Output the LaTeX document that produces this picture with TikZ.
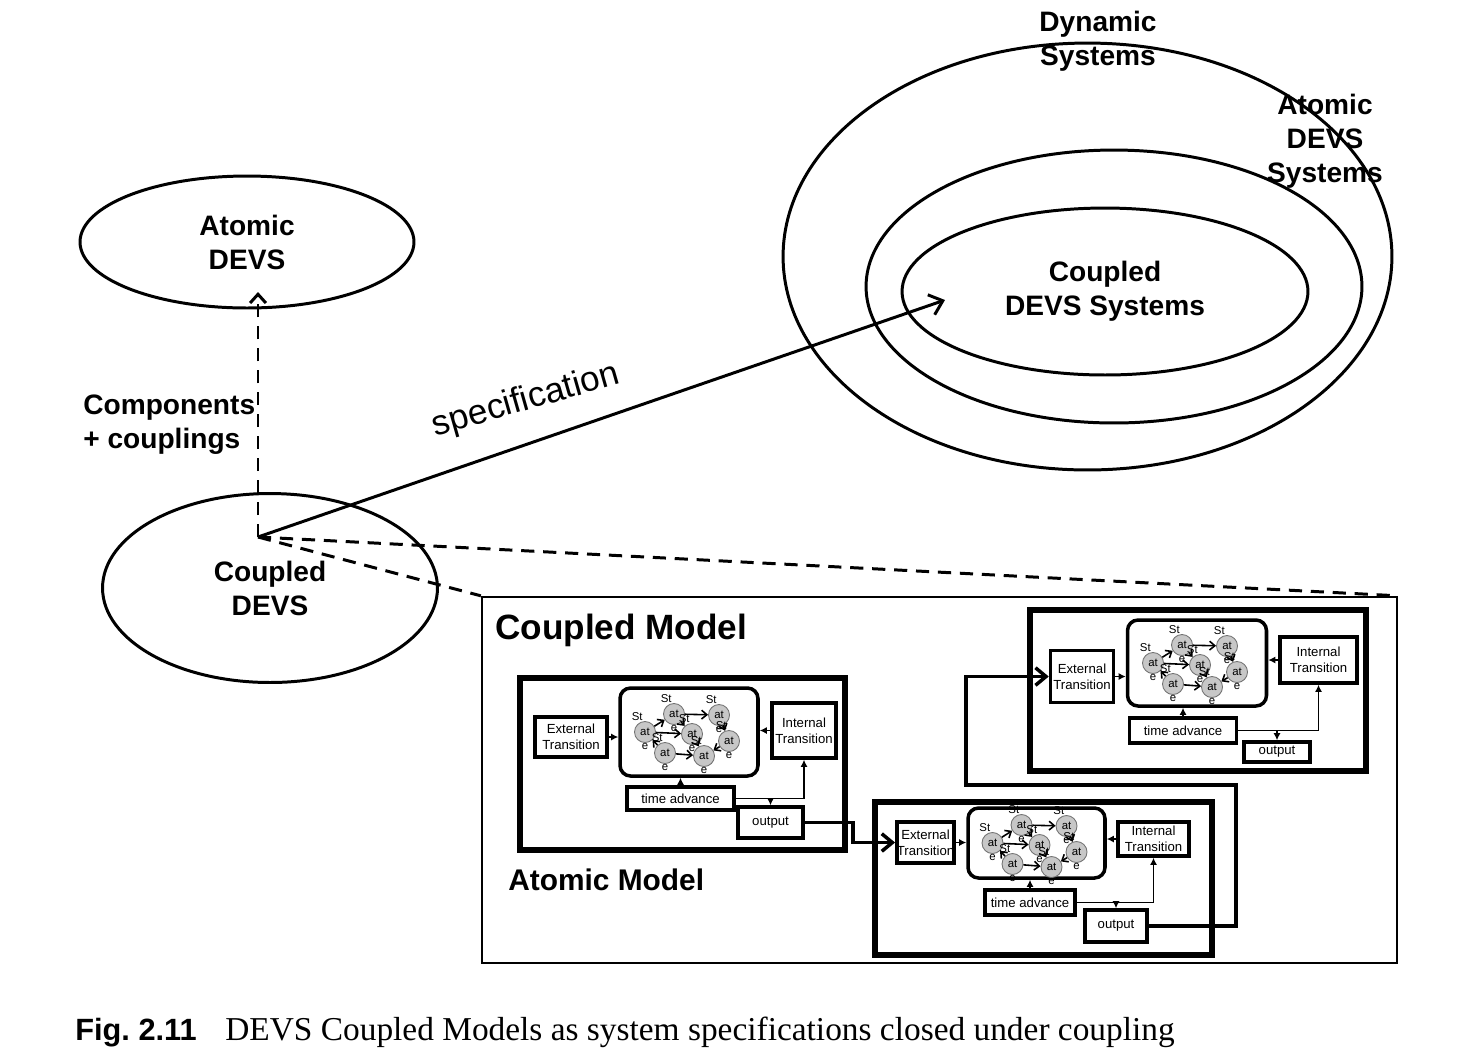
\documentclass[tikz,border=0pt]{standalone}
\usepackage{fontspec}
\setmainfont{Liberation Serif}
\setsansfont{Liberation Sans}
\usetikzlibrary{arrows.meta,shapes.geometric}

\tikzset{
  states/.pic={
    \foreach \n/\x/\y in {1/-44/0,2/-15/-18,3/3/2,4/30/-17,5/40/9,6/15/24,7/-24/21}
      \node[st] (-s\n) at (\x,\y) {at};
    \foreach \a/\b in {1/2,1/3,2/4,2/3,3/6,4/5,5/6,7/6,7/1}
      \draw[sarr] (-s\a) -- (-s\b);
  }
}

\begin{document}
\begin{tikzpicture}[x=0.02cm,y=-0.02cm,
    every node/.style={font=\sffamily},
    wh/.style 2 args={minimum width=#1*0.2mm,minimum height=#2*0.2mm},
    lbl/.style={font=\sffamily\bfseries\fontsize{16}{19.3}\selectfont,align=center},
    ell/.style={ellipse,draw,line width=1.7pt,inner sep=0pt},
    dashline/.style={line width=1.7pt,dash pattern=on 7.5pt off 5pt},
    mbox/.style={draw,line width=3.4pt,inner sep=0pt},
    cbox/.style={draw,line width=2pt,rounded corners=6pt,inner sep=0pt},
    tbox/.style={draw,line width=2pt,inner sep=0pt,align=center,
      font=\sffamily\fontsize{7.5}{9}\selectfont},
    sm/.style={line width=0.9pt,-{Latex[length=4pt,width=4pt]}},
    big/.style={line width=2pt,-{Straight Barb[length=6pt,width=10pt]}},
    st/.style={circle,draw=black!55,fill=black!22,line width=0.5pt,inner sep=0pt,
      minimum size=4.2mm,font=\sffamily\fontsize{6.5}{6.5}\selectfont,
      label={[slab]100:St},label={[slab]-90:e}},
    slab/.style={inner sep=0pt,label distance=0.3pt,font=\sffamily\fontsize{6.5}{6.5}\selectfont},
    sarr/.style={line width=0.9pt,-{Straight Barb[length=3pt,width=5pt]}}]
  \useasboundingbox (0,0) rectangle (1476,1063);

  \node[ell,lbl,wh={334}{132}] (adevs) at (247,242) {Atomic\\DEVS};
  \node[ell,lbl,wh={335}{189}] (cdevs) at (270,588) {Coupled\\DEVS};
  \node[ell,wh={609}{427}] (dyn) at (1087.5,256.5) {};
  \node[ell,wh={496}{273}] (adevss) at (1114,286.5) {};
  \node[ell,lbl,wh={406}{167}] (cdevss) at (1105,291.5) {Coupled\\DEVS Systems};
  \node[lbl] (dynt) at (1098,41) {Dynamic\\Systems};
  \node[lbl] (adevsst) at (1325,141) {Atomic\\DEVS\\Systems};
  \node[lbl,align=left,anchor=west,inner sep=0pt] (comp) at (83,425) {Components\\+ couplings};
  \node[rotate=16,font=\sffamily\fontsize{20}{24}\selectfont] (spec) at (526,401) {specification};

  \coordinate (hub) at (258,537);
  \coordinate (atip) at (258,292);
  \coordinate (stip) at (945,300);
  \draw[dashline,-{Straight Barb[length=5pt,width=9pt]}] (hub) -- (atip);
  \draw[line width=1.7pt,-{Straight Barb[length=7pt,width=12pt]}] (hub) -- (stip);

  \node[draw,line width=1.4pt,inner sep=0pt,wh={915}{366}] (cm) at (939.5,780) {};
  \draw[dashline] (hub) -- (cm.north east) (hub) -- (cm.north west);
  \node[anchor=west,inner sep=0pt,font=\sffamily\bfseries\fontsize{20}{24}\selectfont] (cmt) at (495,630) {Coupled Model};
  \node[anchor=west,inner sep=0pt,font=\sffamily\bfseries\fontsize{17}{20}\selectfont] (amt) at (508,880) {Atomic Model};

  % first atomic model
  \node[mbox,wh={325}{172}] (am1) at (682.5,764) {};
  \node[tbox,wh={72}{40}] (ext1) at (571,737) {External\\Transition};
  \node[cbox,wh={138}{88}] (sc1) at (689,732) {};
  \pic (p1) at (sc1) {states};
  \node[tbox,wh={64}{55}] (int1) at (804,730.5) {Internal\\Transition};
  \node[tbox,wh={107}{23}] (ta1) at (680.5,798.5) {time advance};
  \node[tbox,wh={65}{31}] (out1) at (770.5,822.5) {output};
  \draw[sm] (ext1.east) -- (ext1.east -| sc1.west);
  \draw[sm] (int1.west) -- (int1.west -| sc1.east);
  \draw[sm] (ta1.north) -- (ta1.north |- sc1.south);
  \draw[sm] (ta1.east) -| (int1.south);
  \draw[sm] (ta1.east -| out1.north) -- (out1.north);

  % second atomic model
  \node[mbox,wh={337}{153}] (am2) at (1043.5,878.5) {};
  \node[tbox,wh={56}{41}] (ext2) at (925.5,842.5) {External\\Transition};
  \node[cbox,wh={137}{70}] (sc2) at (1036.5,843) {};
  \pic (p2) at (sc2) {states};
  \node[tbox,wh={71}{34}] (int2) at (1153.5,839) {Internal\\Transition};
  \node[tbox,wh={90}{25}] (ta2) at (1030,902.5) {time advance};
  \node[tbox,wh={62}{32}] (out2) at (1116,926) {output};
  \draw[sm] (ext2.east) -- (ext2.east -| sc2.west);
  \draw[sm] (int2.west) -- (int2.west -| sc2.east);
  \draw[sm] (ta2.north) -- (ta2.north |- sc2.south);
  \draw[sm] (ta2.east) -| (int2.south);
  \draw[sm] (ta2.east -| out2.north) -- (out2.north);

  % third atomic model
  \node[mbox,wh={336}{161}] (am3) at (1198,690.5) {};
  \node[tbox,wh={63}{52}] (ext3) at (1082,676.5) {External\\Transition};
  \node[cbox,wh={139}{86}] (sc3) at (1197,663) {};
  \pic (p3) at (sc3) {states};
  \node[tbox,wh={77}{46}] (int3) at (1318.5,660) {Internal\\Transition};
  \node[tbox,wh={107}{25}] (ta3) at (1183,730.5) {time advance};
  \node[tbox,wh={66}{20}] (out3) at (1277,752) {output};
  \draw[sm] (ext3.east) -- (ext3.east -| sc3.west);
  \draw[sm] (int3.west) -- (int3.west -| sc3.east);
  \draw[sm] (ta3.north) -- (ta3.north |- sc3.south);
  \draw[sm] (ta3.east) -| (int3.south);
  \draw[sm] (ta3.east -| out3.north) -- (out3.north);

  % couplings
  \coordinate (k1) at (853,822.5);
  \coordinate (k2) at (1236,785);
  \coordinate (k3) at (966,785);
  \draw[big] (out1.east) -- (k1) |- (ext2.west);
  \draw[big] (out2.east) -| (k2) -- (k3) |- (ext3.west);

  \node[anchor=base west,inner sep=0pt,font=\sffamily\bfseries\fontsize{17.5}{20}\selectfont] (fig) at (75,1040) {Fig.\ 2.11};
  \node[anchor=base west,inner sep=0pt,font=\rmfamily\fontsize{19}{22}\selectfont] (cap) at (225,1040) {DEVS Coupled Models as system specifications closed under coupling};
\end{tikzpicture}
\end{document}
